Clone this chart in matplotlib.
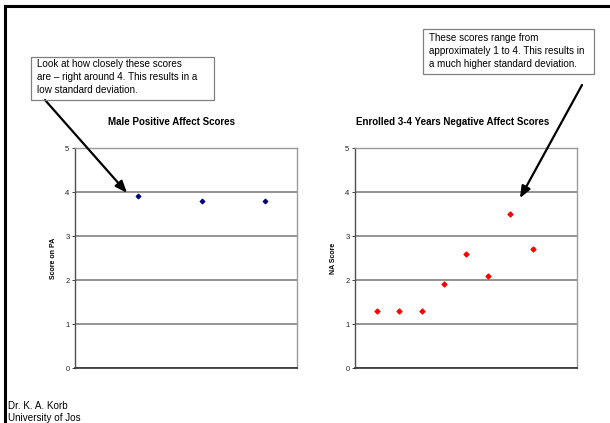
import matplotlib
matplotlib.use("Agg")
import matplotlib.pyplot as plt
from matplotlib.patches import Rectangle
from matplotlib.lines import Line2D

plt.rcParams['font.family'] = ['Liberation Sans', 'DejaVu Sans']

# data
male_pa_x = [1, 2, 3]
male_pa = [3.9, 3.8, 3.8]
enrolled_na_x = [1, 2, 3, 4, 5, 6, 7, 8]
enrolled_na = [1.3, 1.3, 1.3, 1.9, 2.6, 2.1, 3.5, 2.7]
y_ticks = [0, 1, 2, 3, 4, 5]

W, H = 610, 423


def fx(px):
    return px / W


def fy(py):
    # top-left pixel -> figure fraction
    return 1 - py / H


fig = plt.figure(figsize=(W / 100, H / 100), dpi=100)

# outer slide frame (left and top only)
fig.add_artist(Line2D([fx(5), fx(5)], [0, fy(6)], color='black', lw=2.2,
                      transform=fig.transFigure))
fig.add_artist(Line2D([fx(5), 1], [fy(6), fy(6)], color='black', lw=2.2,
                      transform=fig.transFigure))


def style_axes(ax, xmax, ylabel):
    ax.set_xlim(0, xmax)
    ax.set_ylim(0, 5)
    ax.set_yticks(y_ticks)
    ax.set_xticks([])
    ax.tick_params(axis='y', labelsize=5.5, length=2, width=0.6, pad=2,
                   colors='#222222')
    ax.yaxis.grid(True, color='#808080', lw=1.2)
    ax.set_axisbelow(True)
    for s in ['top', 'right']:
        ax.spines[s].set_color('#9a9a9a')
        ax.spines[s].set_linewidth(1.0)
    ax.spines['left'].set_color('#505050')
    ax.spines['bottom'].set_color('#303030')
    ax.spines['left'].set_linewidth(1.0)
    ax.spines['bottom'].set_linewidth(1.2)
    ax.set_ylabel(ylabel, fontsize=5, fontweight='bold', labelpad=6)


ax1 = fig.add_axes([fx(75), fy(368), 222 / W, 220 / H])
ax1.scatter(male_pa_x, male_pa, marker='D', s=5, color='#000080', zorder=3)
style_axes(ax1, 3.5, 'Score on PA')
fig.text(fx(172), fy(122), 'Male Positive Affect Scores', fontsize=7,
         fontweight='bold', ha='center', va='center')

ax2 = fig.add_axes([fx(355), fy(368), 222 / W, 220 / H])
ax2.scatter(enrolled_na_x, enrolled_na, marker='D', s=6, color='#ff0000', zorder=3)
style_axes(ax2, 10, 'NA Score')
fig.text(fx(453), fy(122), 'Enrolled 3-4 Years Negative Affect Scores', fontsize=7,
         fontweight='bold', ha='center', va='center')

# callout boxes
fig.add_artist(Rectangle((fx(31), fy(100)), fx(214 - 31), 43 / H, fill=False,
                         edgecolor='#808080', lw=0.9, transform=fig.transFigure))
fig.text(fx(37), fy(59), 'Look at how closely these scores\n'
         'are \u2013 right around 4. This results in a\n'
         'low standard deviation.', fontsize=7.1, va='top', ha='left',
         linespacing=1.4)

fig.add_artist(Rectangle((fx(423), fy(74)), fx(594 - 423), 45 / H, fill=False,
                         edgecolor='#808080', lw=0.9, transform=fig.transFigure))
fig.text(fx(429), fy(33), 'These scores range from\n'
         'approximately 1 to 4. This results in\n'
         'a much higher standard deviation.', fontsize=7.1, va='top', ha='left',
         linespacing=1.4)

arrow = dict(arrowstyle='-|>,head_length=0.7,head_width=0.28', color='black',
             lw=1.6, shrinkA=0, shrinkB=0)
ax1.annotate('', xy=(0.82, 3.98), xycoords='data',
             xytext=(fx(45), fy(100)), textcoords='figure fraction',
             arrowprops=arrow, annotation_clip=False)
ax2.annotate('', xy=(7.43, 3.86), xycoords='data',
             xytext=(fx(582), fy(85)), textcoords='figure fraction',
             arrowprops=arrow, annotation_clip=False)

fig.text(fx(8), fy(401), 'Dr. K. A. Korb\nUniversity of Jos', fontsize=7.1,
         va='top', ha='left', linespacing=1.2)

fig.savefig('out.png', dpi=100)
